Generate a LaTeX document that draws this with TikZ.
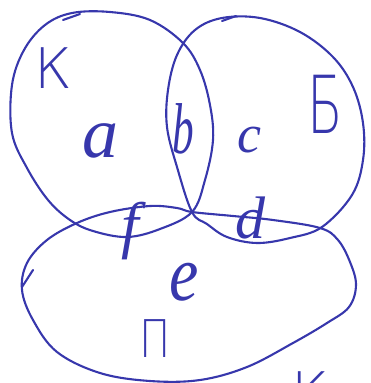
\documentclass[tikz,border=0pt]{standalone}
\usepackage{fontspec}
\setmainfont{Liberation Serif}
\newfontfamily\cyrfont{DejaVu Sans ExtraLight}
\usetikzlibrary{calc}
\definecolor{ink}{RGB}{55,55,172}
\newcommand{\fsz}[1]{\fontsize{#1}{#1}\selectfont}
\tikzset{
  pen/.style={draw=ink, line width=2.1pt, line cap=round, line join=round},
  setname/.style={text=ink, inner sep=0pt, anchor=base, font=\cyrfont},
  part/.style={text=ink, inner sep=0pt, anchor=base, font=\itshape}
}

\begin{document}
\begin{tikzpicture}[x=1pt, y=-1pt]
  \useasboundingbox (0,0) rectangle (371,383);
  \clip (0,0) rectangle (371,383);
  % set K
  \draw[pen] plot[smooth cycle, tension=0.6] coordinates {
    (12,85) (24,50) (45,25) (72,13) (110,12) (150,20) (183,43) (200,70)
    (210,105) (213,140) (205,180) (192,212) (160,229) (127,237) (93,231)
    (70,220) (48,200) (27,168) (12,133)};
  \draw[pen] (63,20) -- (80,14);
  % set B
  \draw[pen] plot[smooth cycle, tension=0.6] coordinates {
    (192,212) (177,167) (167,127) (168,90) (177,55) (195,30) (222,18)
    (260,18) (300,32) (333,57) (353,87) (363,123) (363,160) (352,195)
    (322,227) (290,238) (257,243) (227,237) (207,224)};
  \draw[pen] (222,21) -- (236,16);
  % set P
  \draw[pen] plot[smooth cycle, tension=0.6] coordinates {
    (192,212) (233,216) (273,220) (320,228) (338,240) (350,262) (356,285)
    (349,307) (327,323) (293,343) (247,367) (200,380) (150,381) (100,373)
    (57,352) (33,320) (22,290) (27,263) (47,240) (77,223) (110,212)
    (150,206) (177,208)};
  \draw[pen] (22,287) -- (33,270);
  % set names
  \node[setname, font=\cyrfont\fsz{56}] (nameK) at (53,88) {К};
  \node[setname, font=\cyrfont\fsz{80}, xscale=0.65] (nameB) at (325,133) {Б};
  \node[setname, font=\cyrfont\fsz{52}, xscale=0.8] (nameP) at (155,357) {П};
  \node[setname, font=\cyrfont\fsz{56}] (nameK2) at (310,412) {К};
  % regions
  \node[part, font=\itshape\fsz{72}] (ra) at (100,157) {a};
  \node[part, font=\itshape\fsz{72}, xscale=0.6] (rb) at (183,153) {b};
  \node[part, font=\itshape\fsz{54}] (rc) at (249,152) {c};
  \node[part, font=\itshape\fsz{60}] (rd) at (250,238) {d};
  \node[part, font=\itshape\fsz{63}] (rf) at (130,246) {f};
  \node[part, font=\itshape\fsz{66}, yscale=1.2] (re) at (184,300) {e};
\end{tikzpicture}
\end{document}
